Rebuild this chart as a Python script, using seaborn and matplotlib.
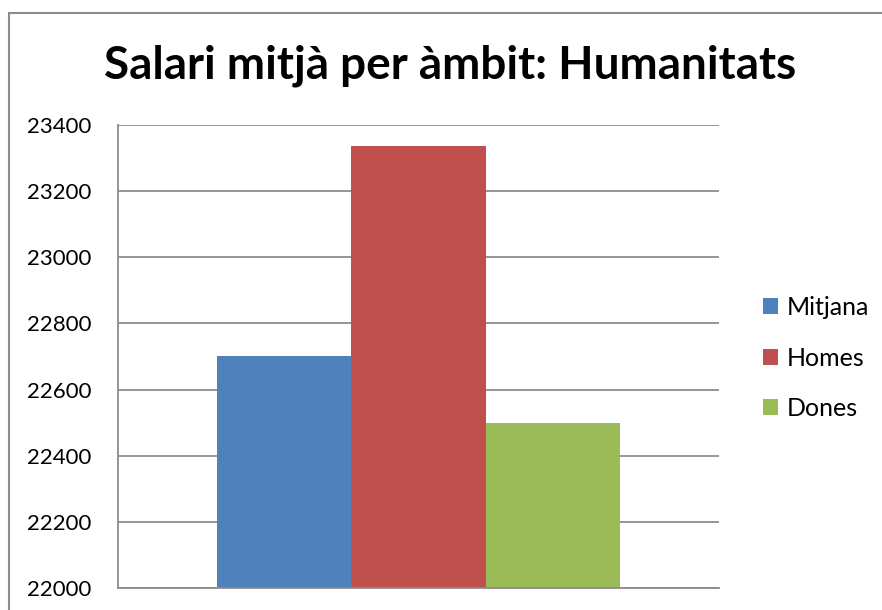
import matplotlib
matplotlib.use("Agg")
import matplotlib.pyplot as plt
import seaborn as sns
import pandas as pd
from matplotlib.patches import Rectangle

categories = ["Humanitats"]
series = ["Mitjana", "Homes", "Dones"]
values = [22700, 23335, 22500]
yticks = [22000, 22200, 22400, 22600, 22800, 23000, 23200, 23400]
colors = ["#4F81BD", "#C0504D", "#9BBB59"]
title = "Salari mitjà per àmbit: Humanitats"

sns.set_theme(style="white")
plt.rcParams["font.family"] = ["Lato", "DejaVu Sans"]
plt.rcParams["text.color"] = "black"

df = pd.DataFrame({"cat": categories * len(series), "serie": series, "val": values})

W, H = 882, 610
fig = plt.figure(figsize=(W / 100, H / 100), dpi=100)
fig.patch.set_facecolor("white")
ax = fig.add_axes([118 / W, (H - 588) / H, (719 - 118) / W, (588 - 125) / H])

sns.barplot(data=df, x="cat", y="val", hue="serie", palette=colors, width=0.67,
            ax=ax, saturation=1, legend=True, errorbar=None)
for p in ax.patches:
    p.set_linewidth(0)

ax.set_ylim(yticks[0], yticks[-1])
ax.set_yticks(yticks)
ax.set_yticklabels([str(t) for t in yticks], fontsize=16, color="black")
ax.set_xticks([])
ax.set_xlabel("")
ax.set_ylabel("")
ax.tick_params(axis="y", length=0, pad=19, colors="black")
ax.yaxis.grid(True, color="#8C8C8C", linewidth=1.3)
ax.set_axisbelow(True)
for s in ["top", "right"]:
    ax.spines[s].set_visible(False)
for s in ["left", "bottom"]:
    ax.spines[s].set_color("#8C8C8C")
    ax.spines[s].set_linewidth(1.3)

handles, labels = ax.get_legend_handles_labels()
leg = ax.legend(handles, labels, loc="center left", bbox_to_anchor=(740 / W, (H - 358) / H),
                bbox_transform=fig.transFigure, frameon=False, fontsize=18,
                handlelength=0.62, handleheight=0.62, handletextpad=0.35, labelspacing=1.1)
for t in leg.get_texts():
    t.set_color("black")

fig.text(450 / W, (H - 66) / H, title, ha="center", va="center",
         fontsize=33, fontweight="bold", color="black")

fig.patches.append(Rectangle((8.5 / W, -0.05), 2, (H - 13) / H + 0.05,
                             transform=fig.transFigure, fill=False,
                             edgecolor="#8C8C8C", linewidth=1.5, figure=fig))

fig.savefig("out.png", dpi=100)
